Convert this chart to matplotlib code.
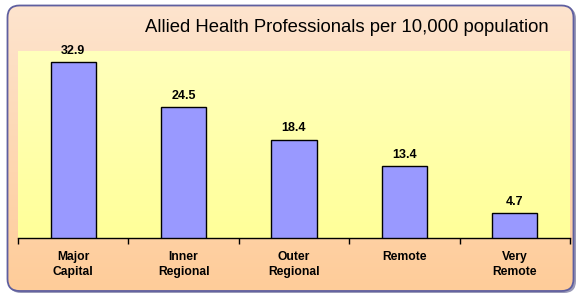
import numpy as np
import matplotlib.pyplot as plt
from matplotlib.patches import FancyBboxPatch
from matplotlib.colors import LinearSegmentedColormap

categories = ["Major\nCapital", "Inner\nRegional", "Outer\nRegional", "Remote", "Very\nRemote"]
values = [32.9, 24.5, 18.4, 13.4, 4.7]
title = "Allied Health Professionals per 10,000 population"

plt.rcParams["font.family"] = ["Liberation Sans", "DejaVu Sans"]

W, H = 580, 299
fig = plt.figure(figsize=(W / 100, H / 100), dpi=100)
fig.patch.set_facecolor("white")

# background layer in pixel coordinates
bg = fig.add_axes([0, 0, 1, 1])
bg.set_xlim(0, W)
bg.set_ylim(H, 0)
bg.axis("off")

# shadow + rounded frame with peach gradient
shadow = FancyBboxPatch((9, 7), 567, 286, boxstyle="round,pad=0,rounding_size=12",
                        facecolor="#9a9ab8", edgecolor="none", zorder=0)
bg.add_patch(shadow)
frame = FancyBboxPatch((7.5, 5.5), 566, 285.5, boxstyle="round,pad=0,rounding_size=12",
                       facecolor="none", edgecolor="#5f5f9f", linewidth=1.3, zorder=3)
bg.add_patch(frame)
peach = LinearSegmentedColormap.from_list("peach", ["#fde4ce", "#ffcc99"])
grad = np.linspace(0, 1, 256).reshape(-1, 1)
im = bg.imshow(grad, cmap=peach, extent=[7.5, 573.5, 291, 5.5], aspect="auto", zorder=1)
im.set_clip_path(frame)

# plot area gradient
px_l, px_r, px_t, px_b = 18, 570, 51, 238
yellow = LinearSegmentedColormap.from_list("yel", ["#ffffbc", "#ffff99"])
bg.imshow(grad, cmap=yellow, extent=[px_l, px_r, px_b, px_t], aspect="auto", zorder=2)
bg.set_xlim(0, W)
bg.set_ylim(H, 0)

ax = fig.add_axes([px_l / W, (H - px_b) / H, (px_r - px_l) / W, (px_b - px_t) / H])
ax.patch.set_alpha(0)

x = np.arange(len(values))
ax.bar(x, values, width=0.41, color="#9999ff", edgecolor="black", linewidth=1, zorder=3)
for xi, v in zip(x, values):
    ax.text(xi, v + 1.0, f"{v}", ha="center", va="bottom", fontsize=9, fontweight="bold")

ax.set_xlim(-0.5, len(values) - 0.5)
ax.set_ylim(0, 35)
ax.set_yticks([])
ax.set_xticks(np.arange(-0.5, len(values)), minor=False)
ax.set_xticklabels([])
ax.tick_params(axis="x", direction="out", length=4, width=1, color="black")
for xi, lab in zip(x, categories):
    ax.text(xi, -0.07, lab, transform=ax.get_xaxis_transform(), ha="center", va="top",
            fontsize=8.7, fontweight="bold", linespacing=1.35)

for side in ("top", "left", "right"):
    ax.spines[side].set_visible(False)
ax.spines["bottom"].set_linewidth(1)

fig.text(347 / W, 1 - 27 / H, title, ha="center", va="center", fontsize=13.3)

fig.savefig("out.png", dpi=100)
